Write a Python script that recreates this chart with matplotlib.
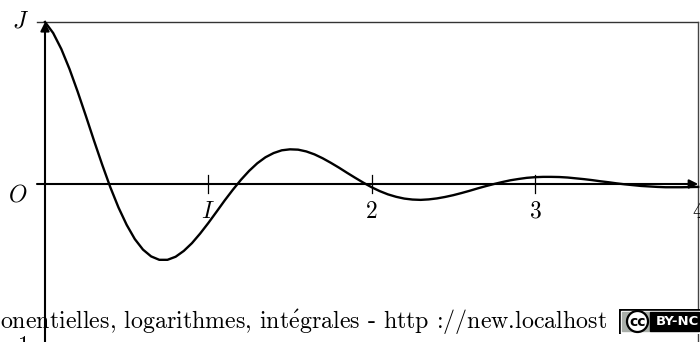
import matplotlib
matplotlib.use("Agg")
import matplotlib.pyplot as plt
from matplotlib.patches import Rectangle, Circle

plt.rcParams['mathtext.fontset'] = 'cm'

# Damped oscillation, sampled every 0.05 on [0, 4]
x_step = 0.05
y_values = [
    1.000, 0.932, 0.833, 0.710, 0.570, 0.421, 0.268, 0.120, -0.020, -0.145,
    -0.252, -0.340, -0.405, -0.447, -0.468, -0.468, -0.449, -0.413, -0.365, -0.306,
    -0.241, -0.172, -0.102, -0.036, 0.026, 0.081, 0.128, 0.165, 0.191, 0.208,
    0.214, 0.212, 0.201, 0.183, 0.159, 0.131, 0.101, 0.069, 0.038, 0.008,
    -0.020, -0.044, -0.064, -0.079, -0.090, -0.096, -0.098, -0.095, -0.089, -0.080,
    -0.069, -0.056, -0.042, -0.027, -0.013, 0.000, 0.012, 0.023, 0.031, 0.038,
    0.042, 0.044, 0.044, 0.043, 0.040, 0.035, 0.030, 0.024, 0.017, 0.011,
    0.004, -0.002, -0.007, -0.012, -0.015, -0.018, -0.020, -0.020, -0.020, -0.019,
    -0.018,
]
x_values = [i * x_step for i in range(len(y_values))]

x_ticks = [1, 2, 3]
x_tick_labels = ['$I$', '$2$', '$3$', '$4$']
x_label_pos = [1, 2, 3, 4]
x_max = 4.0
y_max = 1.0

caption = r"onentielles, logarithmes, int$\mathrm{\acute{e}}$grales - http ://new.localhost"

W, H = 700, 342
fig = plt.figure(figsize=(W / 100, H / 100), dpi=100)
ax = fig.add_axes([0, 0, 1, 1])
ux, uy = 163.3, 162.0
ox, oy = 45.0, 184.0
ax.set_xlim(-ox / ux, (W - ox) / ux)
ax.set_ylim(-(H - oy) / uy, oy / uy)
ax.axis('off')

# frame (top and right edges)
x_left = -8 / ux
ax.plot([x_left, x_max], [y_max, y_max], color='#333333', lw=1.0, zorder=2)
ax.plot([x_max, x_max], [y_max, -(H - oy) / uy - 0.1], color='#444444', lw=1.0,
        zorder=2, clip_on=False)

# axes with arrow heads
arrow = dict(arrowstyle='-|>', lw=1.5, color='black', mutation_scale=13,
             shrinkA=0, shrinkB=0)
ax.annotate('', xy=(x_max, 0), xytext=(x_left, 0), arrowprops=arrow, zorder=4)
ax.annotate('', xy=(0, y_max), xytext=(0, -(H - oy) / uy - 0.1),
            arrowprops=arrow, zorder=4, annotation_clip=False)

# ticks on the x-axis
for t in x_ticks:
    ax.plot([t, t], [-0.055, 0.055], color='black', lw=0.9, zorder=4)

# curve
ax.plot(x_values, y_values, color='black', lw=1.7, zorder=5,
        solid_joinstyle='round')

# labels
fs = 17
for pos, lab in zip(x_label_pos, x_tick_labels):
    ax.text(pos, -0.165, lab, fontsize=fs, ha='center', va='center', zorder=6)
ax.text(-0.153, 1.012, '$J$', fontsize=fs, ha='center', va='center')
ax.text(-0.168, -0.062, '$O$', fontsize=fs, ha='center', va='center')
ax.text(-0.19, -1.0, '$-1$', fontsize=fs, ha='center', va='center',
        clip_on=False)

# caption along the bottom
cap = ax.text(0.0, 1 - 328 / H, caption, transform=fig.transFigure,
              fontsize=14, family=['cmr10', 'DejaVu Serif'],
              ha='left', va='baseline', zorder=1)
fig.canvas.draw()
w = cap.get_window_extent().width
cap.set_fontsize(14 * 608 / w)

# licence badge
lx0, ly0, lw_, lh_ = 619, 309, 83, 25
bx = fig.add_axes([lx0 / W, 1 - (ly0 + lh_) / H, lw_ / W, lh_ / H])
bx.set_xlim(0, lw_)
bx.set_ylim(0, lh_)
bx.axis('off')
bx.add_patch(Rectangle((0, 0), lw_, lh_, color='black'))
bx.add_patch(Rectangle((1.5, 1.5), lw_ - 3, lh_ - 3, color='white'))
bx.add_patch(Rectangle((3, 3), 28, lh_ - 6, color='#a9aea9'))
bx.add_patch(Rectangle((31, 3), lw_ - 34, lh_ - 6, color='black'))
bx.add_patch(Circle((18.5, lh_ / 2), 10.5, facecolor='white', edgecolor='black',
                    lw=1.6))
bx.text(18.5, lh_ / 2, 'cc', fontsize=10, fontweight='bold', ha='center',
        va='center', family='DejaVu Sans')
bx.text(58, lh_ / 2, 'BY-NC', fontsize=9.5, fontweight='bold', ha='center',
        va='center', color='white', family='DejaVu Sans')

fig.savefig('out.png', dpi=100)
